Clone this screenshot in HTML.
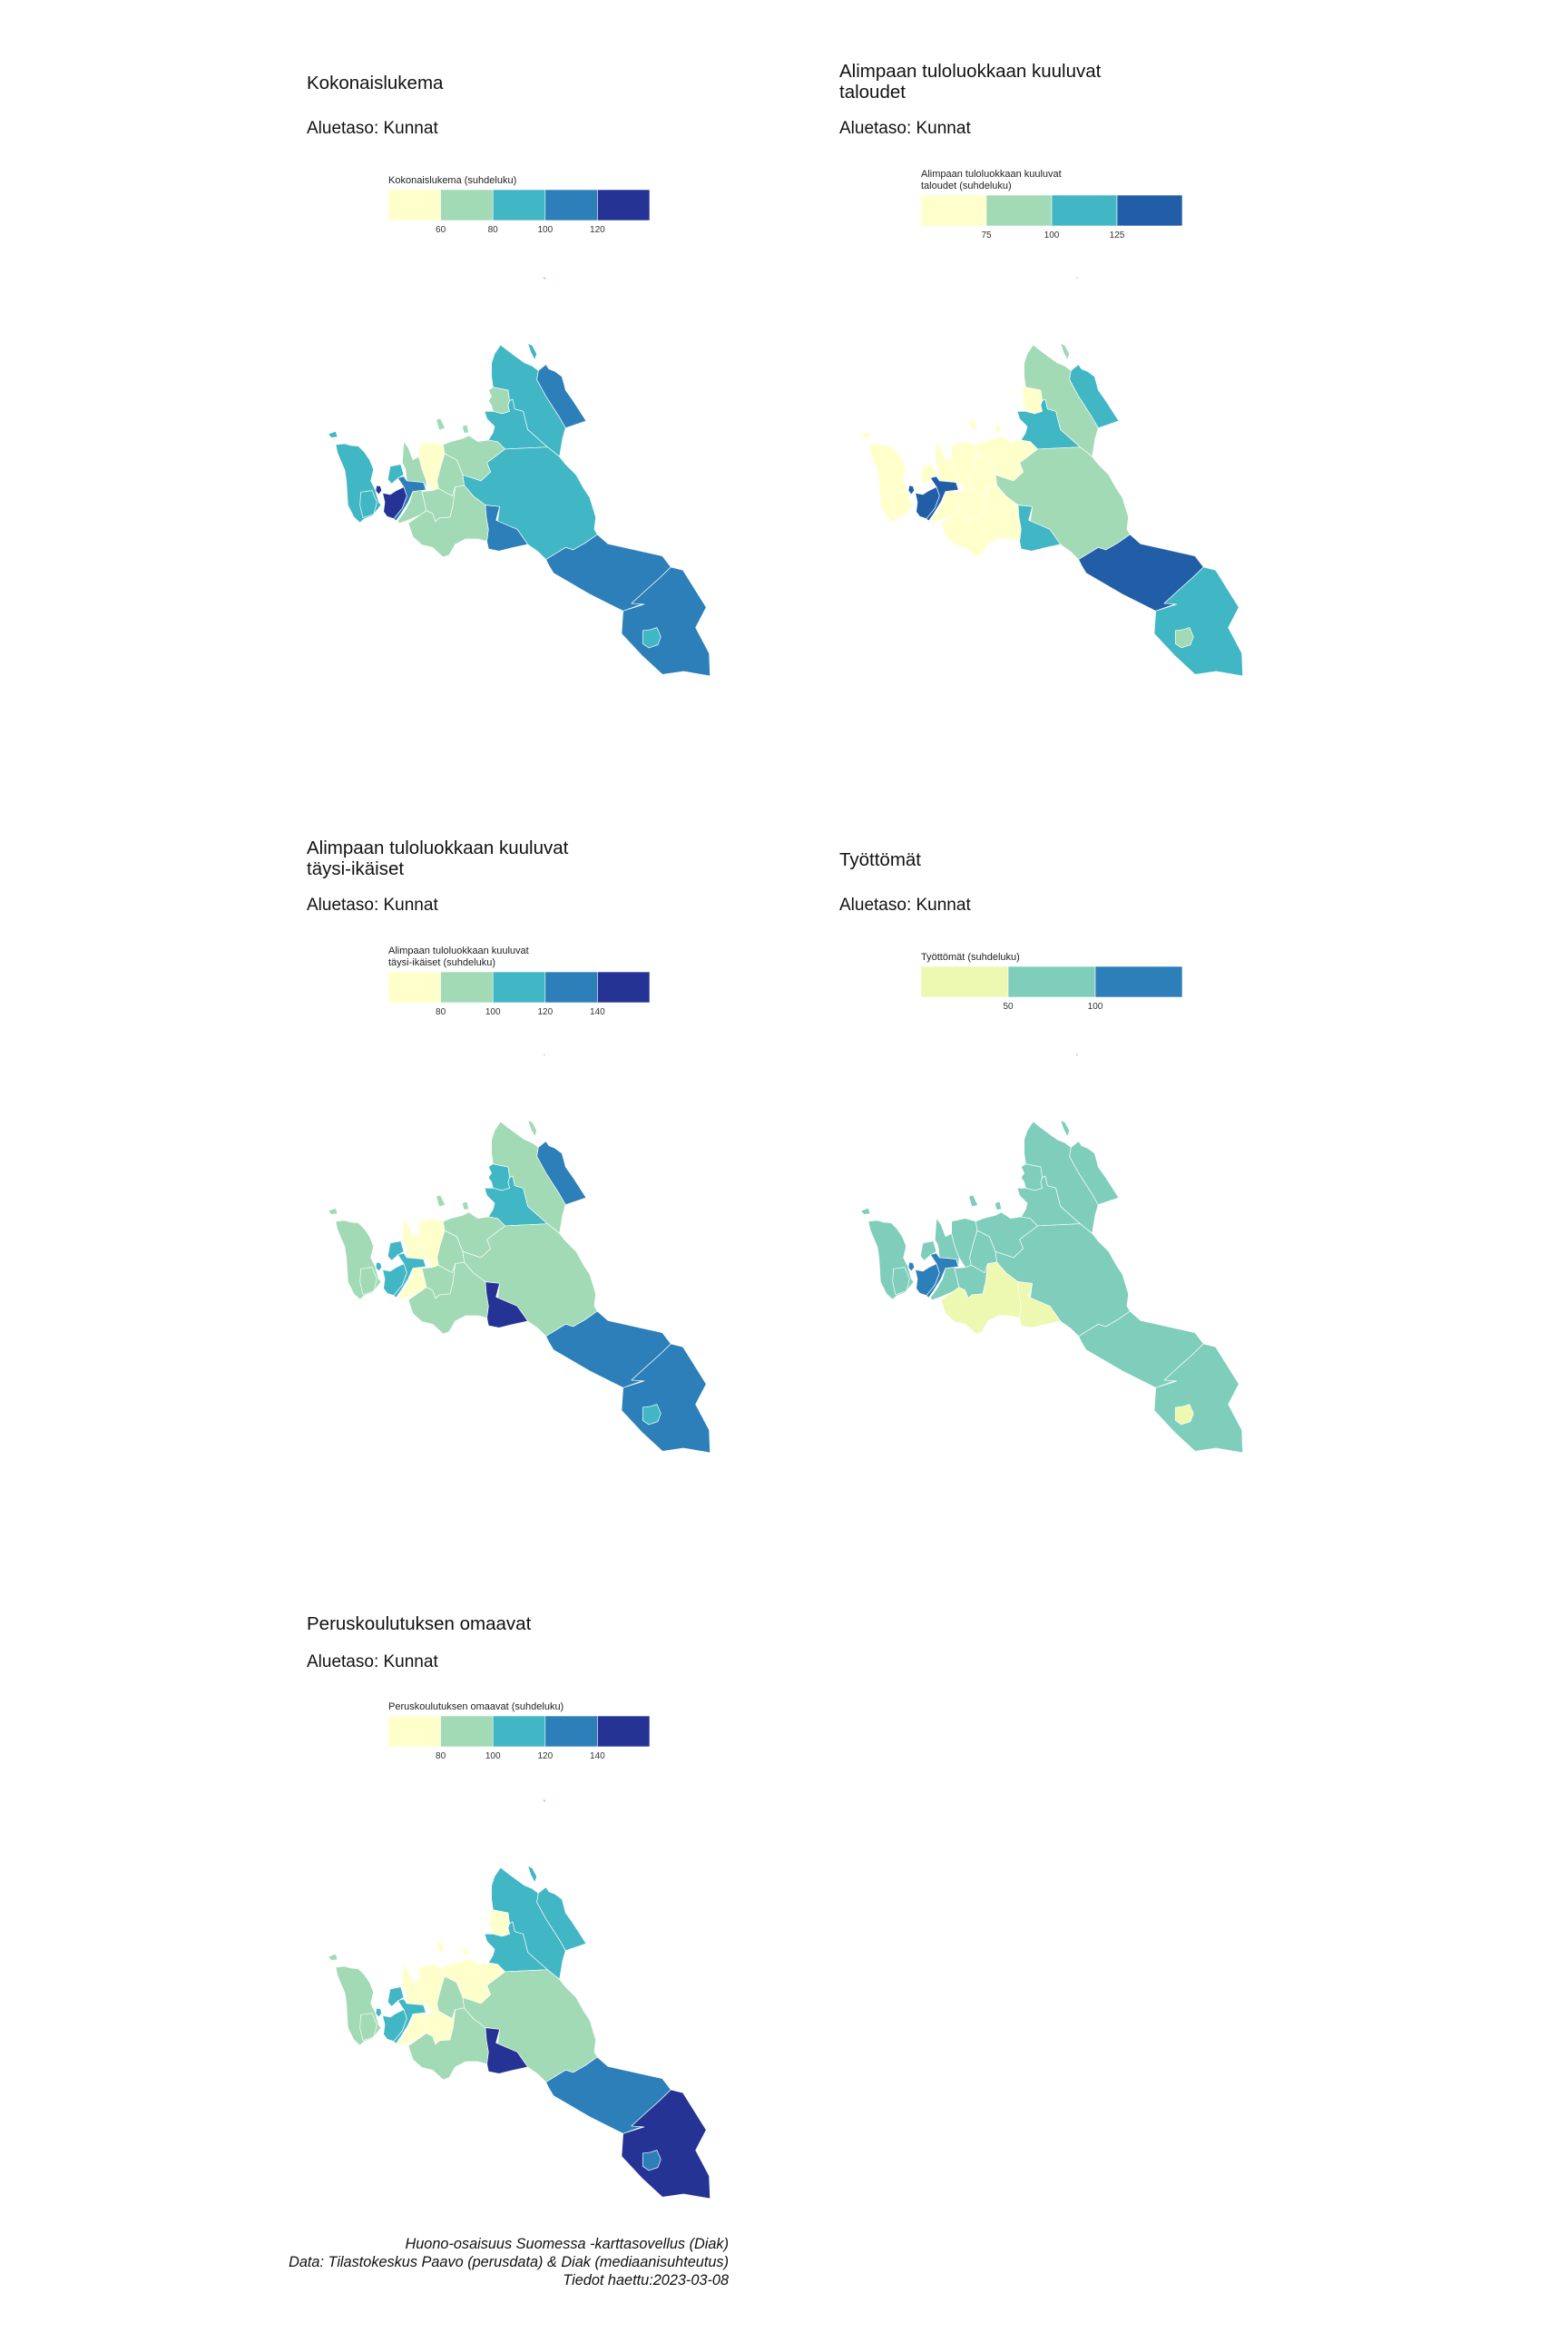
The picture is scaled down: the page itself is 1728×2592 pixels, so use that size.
<!DOCTYPE html>
<html><head><meta charset="utf-8"><style>
html,body{margin:0;padding:0;background:#fff;}
svg{display:block;font-family:"Liberation Sans",sans-serif;}
</style></head><body>
<svg id="chart" width="1728" height="2592" viewBox="0 0 1728 2592" xmlns="http://www.w3.org/2000/svg">
<rect width="1728" height="2592" fill="#fff"/>
<g id="root"></g>
<g font-style="italic" font-size="16.3" fill="#111" text-anchor="end">
<text x="803" y="2478">Huono-osaisuus Suomessa -karttasovellus (Diak)</text>
<text x="803" y="2498">Data: Tilastokeskus Paavo (perusdata) &amp; Diak (mediaanisuhteutus)</text>
<text x="803" y="2518">Tiedot haettu:2023-03-08</text>
</g>
</svg>
<script>
// Region order
const regionIds = ["R","R2","R3","O","Q","P","P2","N","M","K","J","L","C","D","A","B","E","F","G","H","I","isl1","isl2","isl3","isl4","tip"];
// Class index per region (same order as regionIds) for each panel
const classesP1 = [2,2,2,1,3,4,4,0,1,1,1,1,1,2,2,3,2,3,3,3,2,2,1,1,2,2];
const classesP2 = [0,0,0,0,3,3,3,0,0,0,0,0,0,2,1,2,1,2,3,2,1,0,0,0,1,1];
const classesP3 = [1,1,2,0,2,2,2,0,1,1,1,1,2,2,1,3,1,4,3,3,2,1,1,1,1,1];
const classesP4 = [1,1,1,1,2,2,2,1,1,1,0,1,1,1,1,1,1,0,1,1,0,1,1,1,1,1];
const classesP5 = [1,1,2,0,2,2,2,0,1,0,1,0,0,2,2,2,1,4,3,4,3,1,0,0,2,2];
// Legend tick labels
const ticksP1 = ["60","80","100","120"];
const ticksP2 = ["75","100","125"];
const ticksP3 = ["80","100","120","140"];
const ticksP4 = ["50","100"];
const ticksP5 = ["80","100","120","140"];

const pal5 = ["#ffffcc","#a1dab4","#41b6c4","#2c7fb8","#253494"];
const pal4 = ["#ffffcc","#a1dab4","#41b6c4","#225ea8"];
const pal3 = ["#edf8b1","#7fcdbb","#2c7fb8"];

const shapes = {
R:"M120,600 L150,597 L170,603 L195,605 L215,625 L232,650 L245,682 L236,720 L250,748 L262,790 L270,800 L242,835 L215,845 L200,858 L180,840 L160,800 L155,720 L150,685 L135,650 L125,625 Z",
R2:"M203,757 L240,752 L256,790 L246,830 L210,842 L200,800 Z",
R3:"M300,672 L335,665 L345,700 L325,712 L305,730 L292,715 Z",
O:"M345,590 L360,610 L375,650 L395,640 L405,680 L420,720 L418,750 L405,755 L420,818 L400,832 L360,850 L330,860 L325,852 L345,825 L365,790 L375,755 L355,720 L350,680 L340,660 Z",
Q:"M325,710 L345,705 L355,720 L380,722 L410,725 L418,750 L375,755 L360,790 L335,830 L320,852 L310,845 L340,810 L355,770 L345,740 Z",
P:"M275,760 L300,765 L320,752 L345,740 L355,770 L340,810 L312,845 L290,838 L278,822 L282,790 Z",
P2:"M255,735 L268,738 L272,752 L262,765 L252,752 Z",
N:"M395,600 L440,590 L475,600 L480,630 L465,680 L455,720 L460,745 L440,752 L420,720 L405,680 L395,640 Z",
M:"M480,630 L520,650 L540,700 L545,735 L515,740 L505,770 L460,745 L455,720 L465,680 Z",
K:"M405,755 L440,752 L460,745 L505,770 L515,740 L508,800 L498,840 L462,843 L450,855 L440,828 L420,818 Z",
J:"M360,860 L400,832 L420,818 L440,828 L450,855 L462,843 L498,840 L508,800 L515,740 L545,735 L575,770 L615,800 L618,840 L625,880 L620,920 L590,912 L550,912 L515,930 L495,965 L475,972 L440,940 L405,932 L375,905 Z",
L:"M475,600 L500,590 L540,580 L560,570 L590,590 L625,585 L655,590 L680,615 L640,645 L620,660 L632,690 L600,720 L540,700 L520,650 L480,630 Z",
C:"M640,410 L690,420 L695,455 L690,470 L695,490 L670,498 L640,490 L635,470 L625,455 L635,440 L625,420 Z",
D:"M612,490 L640,490 L670,498 L695,490 L690,470 L695,455 L705,450 L712,482 L740,490 L755,550 L820,608 L680,615 L655,590 L625,585 L640,560 L645,540 L620,515 Z",
A:"M665,270 L690,290 L720,312 L745,330 L770,340 L790,355 L785,385 L815,440 L860,510 L880,545 L870,580 L860,640 L820,608 L755,550 L740,490 L712,482 L705,450 L695,455 L690,420 L640,410 L635,375 L635,330 L645,300 Z",
B:"M790,355 L815,335 L825,350 L845,358 L868,375 L875,400 L880,420 L905,455 L948,522 L880,545 L860,510 L815,440 L785,385 Z",
E:"M680,615 L820,608 L860,640 L880,665 L915,700 L940,745 L960,775 L980,840 L975,880 L985,897 L945,925 L905,948 L880,940 L815,980 L790,955 L755,930 L720,880 L655,855 L662,805 L615,800 L575,770 L545,735 L540,700 L600,720 L632,690 L620,660 L640,645 Z",
F:"M615,800 L662,805 L650,850 L720,880 L755,930 L700,942 L660,952 L625,945 L620,920 L625,880 L618,840 Z",
G:"M815,980 L880,940 L905,948 L945,925 L985,897 L1020,928 L1200,968 L1228,1005 L1190,1042 L1145,1082 L1098,1125 L1140,1125 L1070,1150 L960,1095 L840,1025 L825,1000 Z",
H:"M1070,1150 L1140,1128 L1098,1125 L1145,1082 L1190,1042 L1228,1005 L1268,1015 L1345,1138 L1310,1205 L1355,1290 L1358,1365 L1270,1350 L1200,1360 L1135,1300 L1065,1225 Z",
I:"M1135,1215 L1160,1212 L1182,1205 L1195,1235 L1185,1262 L1155,1272 L1135,1258 Z",
isl1:"M95,565 L120,556 L126,575 L105,577 Z",
isl2:"M452,518 L466,513 L482,546 L462,552 Z",
isl3:"M538,540 L554,534 L560,560 L544,562 Z",
isl4:"M755,265 L770,272 L785,300 L778,320 L765,295 Z",
tip:"M804,44 L812,47 L815,54 L808,52 Z"
};

const panels = [
 {name:"kokonaislukema", dx:0, dy:0, ty:0, sy:0, ly:0, title:["Kokonaislukema"], leg:["Kokonaislukema (suhdeluku)"], cls:classesP1, pal:pal5, ticks:ticksP1},
 {name:"alimpaan-taloudet", dx:587, dy:0, ty:0, sy:0, ly:0, title:["Alimpaan tuloluokkaan kuuluvat","taloudet"], leg:["Alimpaan tuloluokkaan kuuluvat","taloudet (suhdeluku)"], cls:classesP2, pal:pal4, ticks:ticksP2},
 {name:"alimpaan-taysi-ikaiset", dx:0, dy:856, ty:0, sy:0, ly:0, title:["Alimpaan tuloluokkaan kuuluvat","täysi-ikäiset"], leg:["Alimpaan tuloluokkaan kuuluvat","täysi-ikäiset (suhdeluku)"], cls:classesP3, pal:pal5, ticks:ticksP3},
 {name:"tyottomat", dx:587, dy:856, ty:0, sy:0, ly:0, title:["Työttömät"], leg:["Työttömät (suhdeluku)"], cls:classesP4, pal:pal3, ticks:ticksP4},
 {name:"peruskoulutuksen-omaavat", dx:0, dy:1678, ty:20, sy:12, ly:4, title:["Peruskoulutuksen omaavat"], leg:["Peruskoulutuksen omaavat (suhdeluku)"], cls:classesP5, pal:pal5, ticks:ticksP5}
];

const NS = "http://www.w3.org/2000/svg";
const root = document.getElementById("root");
function mk(tag, attrs, parent){ const e=document.createElementNS(NS,tag); for(const k in attrs) e.setAttribute(k,attrs[k]); parent.appendChild(e); return e; }

const LX = 428, LW = 288;
panels.forEach(p=>{
  const g = mk("g",{transform:`translate(${p.dx},${p.dy})`},root);
  
  
  const two = p.title.length===2;
  const tY = two ? [85,108] : [98];
  p.title.forEach((t,i)=>{
    const tx = mk("text",{x:338,y:tY[i]+p.ty,"font-size":20.5,fill:"#111"},g);
    tx.textContent=t;
    
    
  });
  const sub = mk("text",{x:338,y:147+p.sy,"font-size":19,fill:"#111"},g);
  sub.textContent="Aluetaso: Kunnat";
  
  
  const twoLeg = p.leg.length===2;
  const by = (twoLeg ? 215 : 209) + p.ly;
  const bh = 34;
  const lgY = (twoLeg ? [195,208] : [202]).map(v=>v+p.ly);
  const lg = mk("g",{},g);
  
  
  p.leg.forEach((t,i)=>{
    const tx = mk("text",{x:LX,y:lgY[i],"font-size":11,fill:"#222"},lg);
    tx.textContent=t;
    
    
  });
  const n = p.pal.length, sw = LW/n;
  p.pal.forEach((c,i)=>{
    const r = mk("rect",{x:LX+i*sw,y:by,width:sw,height:bh,fill:c,stroke:"#fff","stroke-width":0.6},lg);
    
    
  });
  p.ticks.forEach((t,i)=>{
    const tx = mk("text",{x:LX+(i+1)*sw,y:by+bh+13,"font-size":10,fill:"#333","text-anchor":"middle"},lg);
    tx.textContent=t;
    
    
  });
  const mg = mk("g",{transform:"translate(330,290) scale(0.3333)"},g);
  
  
  regionIds.forEach((id,i)=>{
    const path = mk("path",{d:shapes[id],fill:p.pal[p.cls[i]],stroke:"#fff","stroke-width":2,"stroke-linejoin":"round"},mg);
    
    
  });
});
</script>
</body></html>
